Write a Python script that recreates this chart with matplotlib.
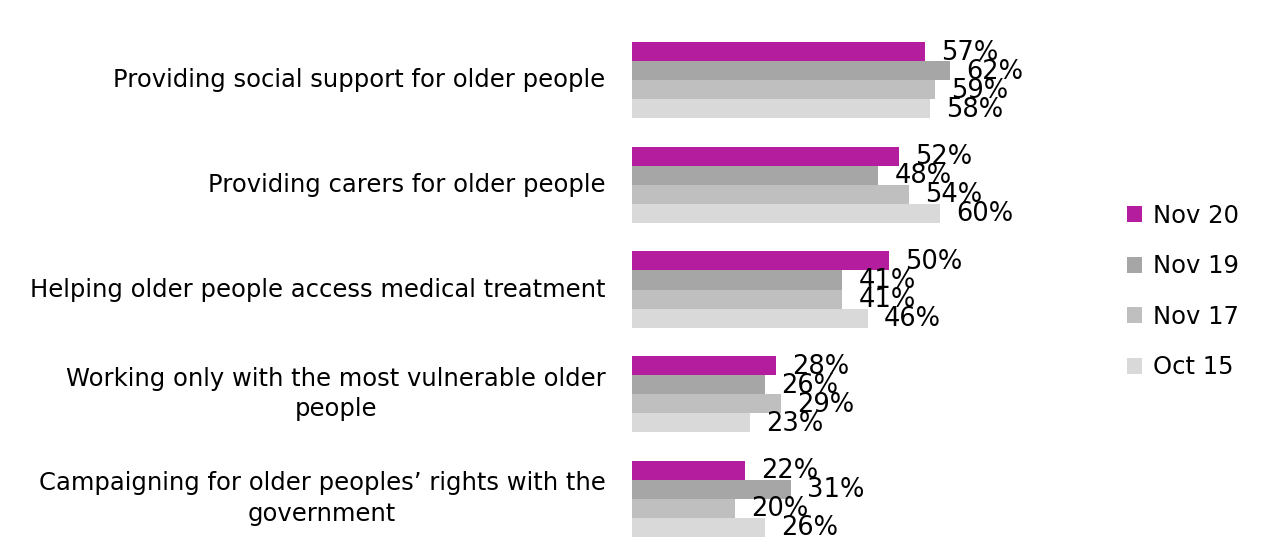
import matplotlib
matplotlib.use("Agg")
import matplotlib.pyplot as plt
import numpy as np

categories = [
    "Providing social support for older people",
    "Providing carers for older people",
    "Helping older people access medical treatment",
    "Working only with the most vulnerable older\npeople",
    "Campaigning for older peoples\u2019 rights with the\ngovernment",
]
series_names = ["Nov 20", "Nov 19", "Nov 17", "Oct 15"]
nov20 = [57, 52, 50, 28, 22]
nov19 = [62, 48, 41, 26, 31]
nov17 = [59, 54, 41, 29, 20]
oct15 = [58, 60, 46, 23, 26]
colors = ["#B41E9E", "#A6A6A6", "#BFBFBF", "#D9D9D9"]

plt.rcParams['font.family'] = ['DejaVu Sans']

fig = plt.figure(figsize=(12.61, 5.57), dpi=100)
ax = fig.add_axes([632/1261, 6/557, (1094-632)/1261, (551-28)/557])

series = [nov20, nov19, nov17, oct15]
n = len(categories)
bh = 0.182
y = np.arange(n)
for i, (vals, c, name) in enumerate(zip(series, colors, series_names)):
    pos = y + (i - 1.5) * bh
    ax.barh(pos, vals, height=bh, color=c, label=name)
    for p, v in zip(pos, vals):
        ax.annotate(f"{v}%", (v, p), xytext=(16, -1), textcoords="offset pixels",
                    va="center", ha="left", fontsize=18.5, color="black")

ax.set_ylim(n - 0.5, -0.5)
ax.set_xlim(0, 90)
ax.set_yticks(y)
ax.set_yticklabels(categories, fontsize=17.5, multialignment="center", linespacing=1.35,
                   va="center")
ax.tick_params(axis="y", length=0, pad=19)
ax.set_xticks([])
for s in ax.spines.values():
    s.set_visible(False)

handles, labels = ax.get_legend_handles_labels()
fig.legend(handles, labels, loc="center left", bbox_to_anchor=(1127/1261, 1 - 291.5/557),
           frameon=False, fontsize=17.5, handlelength=0.62, handleheight=0.62,
           handletextpad=0.45, labelspacing=1.09, borderaxespad=0, borderpad=0)

fig.savefig("out.png", dpi=100)
